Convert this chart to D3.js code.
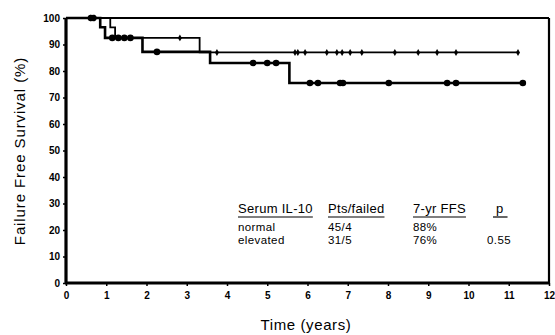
<!DOCTYPE html>
<html><head><meta charset="utf-8">
<script src="https://cdn.jsdelivr.net/npm/d3@7"></script>
<style>body{margin:0;background:#fff}svg{display:block}</style>
</head><body>
<script>
// ---- data ----
const xTickValues = [0,1,2,3,4,5,6,7,8,9,10,11,12];
const yTickValues = [0,10,20,30,40,50,60,70,80,90,100];
const normalTimes = [0, 1.10, 1.22, 3.32];
const normalSurv  = [100, 96.5, 92.5, 87.0];
const normalEnd = 11.23;
const normalCensored = [0.60,0.70,2.83,3.75,5.69,5.76,5.94,6.48,6.73,6.86,7.06,7.35,8.17,8.75,9.22,9.69,11.23];
const elevatedTimes = [0, 0.85, 0.97, 1.90, 3.58, 5.55];
const elevatedSurv  = [100, 96.5, 92.5, 87.2, 83.0, 75.5];
const elevatedEnd = 11.35;
const elevatedCensored = [0.62,0.68,1.15,1.30,1.45,1.60,2.26,4.65,5.00,5.22,6.06,6.26,6.81,6.88,8.02,9.47,9.69,11.35];
const tableHeaders = ["Serum IL-10","Pts/failed","7-yr FFS","p"];
const tableRow1 = ["normal","45/4","88%",""];
const tableRow2 = ["elevated","31/5","76%","0.55"];

// ---- chart ----
const W=555,H=335;
const svg=d3.select("body").append("svg").attr("width",W).attr("height",H);
const x=d3.scaleLinear().domain([0,12]).range([66,549]);
const y=d3.scaleLinear().domain([0,100]).range([283,18]);
const font="'Liberation Sans', Arial, sans-serif";

function survAt(times,surv,t){const i=d3.bisectRight(times,t)-1;return surv[Math.max(0,i)];}

const line=d3.line().x(d=>x(d[0])).y(d=>y(d[1])).curve(d3.curveStepAfter);
function pts(times,surv,end){const p=times.map((t,i)=>[t,surv[i]]);p.push([end,surv[surv.length-1]]);return p;}

// curves
svg.append("path").datum(pts(normalTimes,normalSurv,normalEnd))
  .attr("d",line).attr("fill","none").attr("stroke","#000").attr("stroke-width",1.8);
svg.append("path").datum(pts(elevatedTimes,elevatedSurv,elevatedEnd))
  .attr("d",line).attr("fill","none").attr("stroke","#000").attr("stroke-width",2.6);

// censored marks
svg.append("g").selectAll("path").data(normalCensored).join("path")
  .attr("transform",d=>`translate(${x(d)},${y(survAt(normalTimes,normalSurv,d))})`)
  .attr("d",d3.symbol(d3.symbolDiamond,14)).attr("fill","#000");
svg.append("g").selectAll("circle").data(elevatedCensored).join("circle")
  .attr("cx",d=>x(d)).attr("cy",d=>y(survAt(elevatedTimes,elevatedSurv,d)))
  .attr("r",3.3).attr("fill","#000");

// frame
svg.append("line").attr("x1",66).attr("x2",549).attr("y1",y(100)).attr("y2",y(100)).attr("stroke","#000").attr("stroke-width",2);
svg.append("line").attr("x1",x(12)).attr("x2",x(12)).attr("y1",y(100)).attr("y2",y(0)).attr("stroke","#000").attr("stroke-width",2.2);

// axes
const xAxis=svg.append("g").attr("transform",`translate(0,${y(0)})`)
  .call(d3.axisBottom(x).tickValues(xTickValues).tickSize(3).tickPadding(6).tickFormat(d3.format("d")));
const yAxis=svg.append("g").attr("transform",`translate(${x(0)},0)`)
  .call(d3.axisLeft(y).tickValues(yTickValues).tickSize(3).tickPadding(3).tickFormat(d3.format("d")));
[xAxis,yAxis].forEach(g=>{
  g.select(".domain").attr("stroke","#000").attr("stroke-width",3.2);
  g.selectAll(".tick line").attr("stroke","#000").attr("stroke-width",1.5);
  g.selectAll("text").attr("font-family",font).attr("font-weight","bold").attr("font-size",10).attr("fill","#000");
});
xAxis.select(".domain").attr("d",`M${x(0)-1},0H${x(12)}`);
yAxis.select(".domain").attr("d",`M0,${y(100)}V${y(0)+1}`);

// axis titles
svg.append("text").attr("x",306).attr("y",330).attr("text-anchor","middle")
  .attr("font-family",font).attr("font-size",15).attr("letter-spacing",0.6).text("Time (years)");
svg.append("text").attr("transform","translate(25,151) rotate(-90)").attr("text-anchor","middle")
  .attr("font-family",font).attr("font-size",15).attr("letter-spacing",0.9).text("Failure Free Survival (%)");

// table
const colX=[238,328,413,487];
const t=svg.append("g").attr("font-family",font).attr("fill","#000");
tableHeaders.forEach((h,i)=>{
  const tx = i===3 ? 496 : colX[i];
  const el=t.append("text").attr("x",tx).attr("y",213).attr("font-size",13).attr("letter-spacing",0.3).text(h);
  const w=el.node().getComputedTextLength();
  t.append("line").attr("x1",tx-(i===3?3:0)).attr("x2",tx+w+(i===3?4:0)).attr("y1",217).attr("y2",217).attr("stroke","#000").attr("stroke-width",1.2);
});
[tableRow1,tableRow2].forEach((row,r)=>{
  row.forEach((v,i)=>{ if(v) t.append("text").attr("x",colX[i]).attr("y",r===0?231:244).attr("font-size",11.5).attr("letter-spacing",0.4).text(v); });
});
</script>
</body></html>
